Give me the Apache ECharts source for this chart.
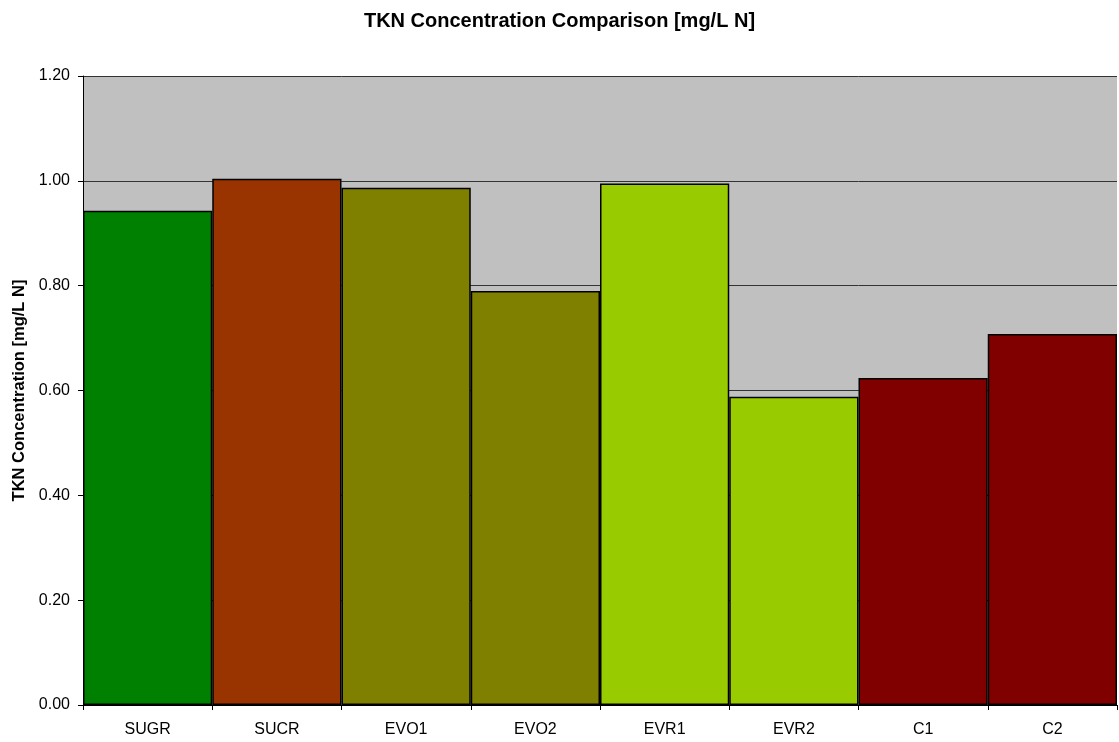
<!DOCTYPE html>
<html><head><meta charset="utf-8">
<script src="https://cdn.jsdelivr.net/npm/echarts@6/dist/echarts.min.js"></script>
<style>html,body{margin:0;padding:0;background:#fff}#c{width:1119px;height:742px}</style>
</head><body><div id="c"></div>
<script>
const categories = ['SUGR','SUCR','EVO1','EVO2','EVR1','EVR2','C1','C2'];
const values = [0.943, 1.004, 0.987, 0.790, 0.995, 0.588, 0.624, 0.708];
const barColors = ['#008000','#993300','#808000','#808000','#99CC00','#99CC00','#800000','#800000'];
const yTicks = [0, 0.2, 0.4, 0.6, 0.8, 1.0, 1.2];

const chart = echarts.init(document.getElementById('c'));
const font = 'Liberation Sans, Arial, sans-serif';
chart.setOption({
  animation: false,
  title: {
    text: 'TKN Concentration Comparison [mg/L N]',
    left: 'center', top: 6,
    textStyle: {fontFamily: font, fontSize: 20, fontWeight: 'bold', color: '#000'}
  },
  grid: {left: 83, right: 2, top: 76, bottom: 37, backgroundColor: '#C0C0C0', show: true, borderWidth: 0},
  xAxis: {
    type: 'category', data: categories,
    axisLine: {lineStyle: {color: '#000', width: 1}},
    axisTick: {show: true, length: 5, alignWithLabel: false, lineStyle: {color: '#000'}},
    axisLabel: {fontFamily: font, fontSize: 16, color: '#000', margin: 17},
    splitLine: {show: false}
  },
  yAxis: {
    type: 'value', min: yTicks[0], max: yTicks[yTicks.length - 1], interval: 0.2,
    name: 'TKN Concentration [mg/L N]', nameLocation: 'middle', nameGap: 53,
    nameTextStyle: {fontFamily: font, fontSize: 16.5, fontWeight: 'bold', color: '#000'},
    axisLine: {show: true, lineStyle: {color: '#000', width: 1}},
    axisTick: {show: true, length: 5, lineStyle: {color: '#000'}},
    axisLabel: {fontFamily: font, fontSize: 16, color: '#000', margin: 13,
      formatter: v => v.toFixed(2)},
    splitLine: {show: true, lineStyle: {color: '#333', width: 1}}
  },
  series: [{
    type: 'bar', barWidth: '100%', barGap: '0%',
    data: values.map((v, i) => ({value: v, itemStyle: {color: barColors[i]}})),
    itemStyle: {borderColor: '#000', borderWidth: 1.5}
  }]
});
</script></body></html>
